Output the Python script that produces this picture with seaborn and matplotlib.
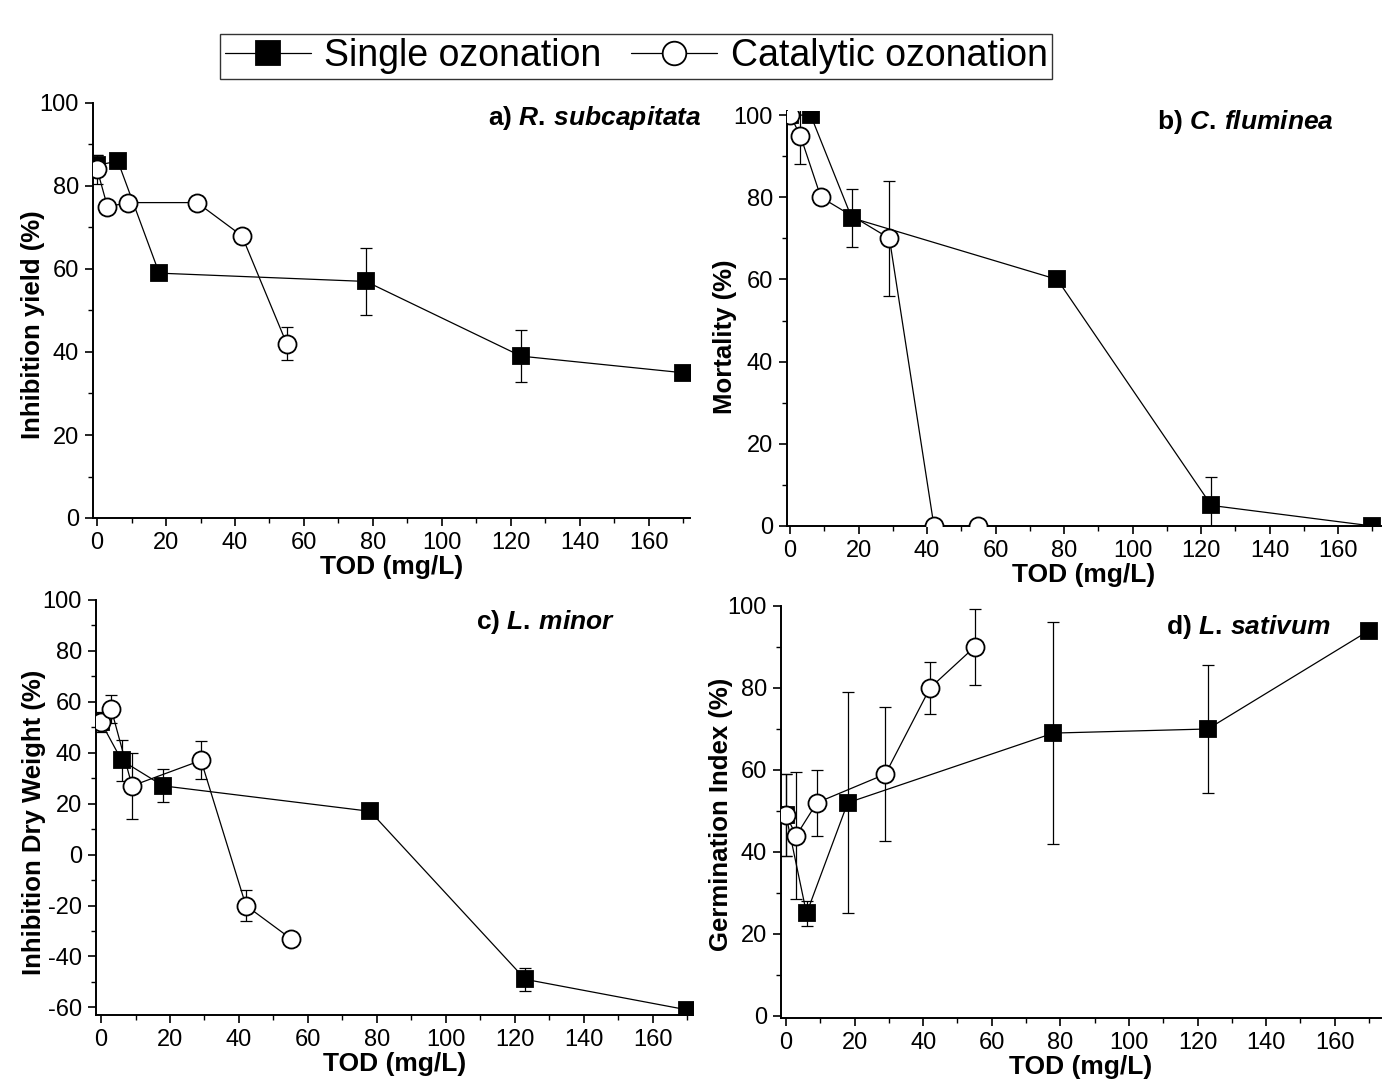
"""Toxicity of ozonated effluent versus TOD for four test organisms."""

import matplotlib

matplotlib.use("Agg")
import matplotlib.pyplot as plt
import pandas as pd
import seaborn as sns
from matplotlib.lines import Line2D
from matplotlib.ticker import MultipleLocator

sns.set_theme(style="ticks")
plt.rcParams["font.family"] = ["Liberation Sans", "DejaVu Sans"]
plt.rcParams["axes.unicode_minus"] = False
plt.rcParams["mathtext.fontset"] = "custom"
plt.rcParams["mathtext.it"] = "Liberation Sans:italic:bold"
plt.rcParams["mathtext.rm"] = "Liberation Sans:bold"
plt.rcParams["text.color"] = "black"
plt.rcParams["axes.labelcolor"] = "black"
plt.rcParams["xtick.color"] = "black"
plt.rcParams["ytick.color"] = "black"

# a) R. subcapitata - inhibition yield (%)
a_single_tod = [0, 6, 18, 78, 123, 170]
a_single_val = [85, 86, 59, 57, 39, 35]
a_single_err = [2.5, 1.5, 1, 8, 6.3, 0]
a_cat_tod = [0, 3, 9, 29, 42, 55]
a_cat_val = [84, 75, 76, 76, 68, 42]
a_cat_err = [3.5, 1, 0, 1.5, 0, 4]

# b) C. fluminea - mortality (%)
b_single_tod = [0, 6, 18, 78, 123, 170]
b_single_val = [100, 100, 75, 60, 5, 0]
b_single_err = [0, 0, 7, 0, 7, 0]
b_cat_tod = [0, 3, 9, 29, 42, 55]
b_cat_val = [100, 95, 80, 70, 0, 0]
b_cat_err = [2, 7, 0, 14, 0, 0]

# c) L. minor - inhibition dry weight (%)
c_single_tod = [0, 6, 18, 78, 123, 170]
c_single_val = [52, 37, 27, 17, -49, -61]
c_single_err = [3, 8, 6.5, 0, 4.5, 0]
c_cat_tod = [0, 3, 9, 29, 42, 55]
c_cat_val = [52, 57, 27, 37, -20, -33]
c_cat_err = [4, 5.5, 13, 7.5, 6, 2]

# d) L. sativum - germination index (%)
d_single_tod = [0, 6, 18, 78, 123, 170]
d_single_val = [49, 25, 52, 69, 70, 94]
d_single_err = [10, 3, 27, 27, 15.7, 0]
d_cat_tod = [0, 3, 9, 29, 42, 55]
d_cat_val = [49, 44, 52, 59, 80, 90]
d_cat_err = [10, 15.5, 8, 16.4, 6.3, 9.2]

SERIES = ["Single ozonation", "Catalytic ozonation"]
TOD_TICKS = [0, 20, 40, 60, 80, 100, 120, 140, 160]

PANELS = [
    {
        "single": (a_single_tod, a_single_val, a_single_err),
        "cat": (a_cat_tod, a_cat_val, a_cat_err),
        "rect": [93 / 1383, 1 - 518 / 1086, 597 / 1383, 415 / 1086],
        "ylim": (0, 100), "xlim": (-1.2, 172), "ylabel": "Inhibition yield (%)",
        "label_xy": (-0.080, 0.465),
        "title": r"a) $\it{R.\,subcapitata}$", "title_xy": (702, 118),
    },
    {
        "single": (b_single_tod, b_single_val, b_single_err),
        "cat": (b_cat_tod, b_cat_val, b_cat_err),
        "rect": [787 / 1383, 1 - 526 / 1086, 594 / 1383, 415 / 1086],
        "ylim": (0, 101), "xlim": (-0.9, 172.5), "ylabel": "Mortality (%)",
        "label_xy": (-0.084, 0.455),
        "title": r"b) $\it{C.\,fluminea}$", "title_xy": (1334, 122),
    },
    {
        "single": (c_single_tod, c_single_val, c_single_err),
        "cat": (c_cat_tod, c_cat_val, c_cat_err),
        "rect": [96 / 1383, 1 - 1015 / 1086, 597 / 1383, 415 / 1086],
        "ylim": (-63, 100), "xlim": (-1.45, 171.6), "ylabel": "Inhibition Dry Weight (%)",
        "label_xy": (-0.083, 0.465),
        "title": r"c) $\it{L.\,minor}$", "title_xy": (615, 622),
    },
    {
        "single": (d_single_tod, d_single_val, d_single_err),
        "cat": (d_cat_tod, d_cat_val, d_cat_err),
        "rect": [781 / 1383, 1 - 1018 / 1086, 600 / 1383, 412 / 1086],
        "ylim": (-0.5, 100), "xlim": (-1.45, 173.5), "ylabel": "Germination Index (%)",
        "label_xy": (-0.080, 0.495),
        "title": r"d) $\it{L.\,sativum}$", "title_xy": (1331, 627),
    },
]

MARKER_STYLE = {
    SERIES[0]: dict(marker="s", markersize=12, markerfacecolor="black", markeredgecolor="black"),
    SERIES[1]: dict(marker="o", markersize=13, markerfacecolor="white", markeredgecolor="black"),
}

fig = plt.figure(figsize=(13.83, 10.86), dpi=100)

for panel in PANELS:
    ax = fig.add_axes(panel["rect"])
    for name, key in zip(SERIES, ("single", "cat")):
        tod, val, err = panel[key]
        frame = pd.DataFrame({"TOD": tod, "value": val})
        ax.errorbar(tod, val, yerr=err, fmt="none", ecolor="black", elinewidth=0.9,
                    capsize=4, capthick=0.9, zorder=2)
        sns.lineplot(data=frame, x="TOD", y="value", ax=ax, sort=False, color="black",
                     linewidth=0.9, markeredgewidth=1.3, zorder=3, **MARKER_STYLE[name])
    ax.set_xlim(*panel["xlim"])
    ax.set_ylim(*panel["ylim"])
    ax.set_xticks(TOD_TICKS)
    ax.xaxis.set_minor_locator(MultipleLocator(10))
    ax.yaxis.set_major_locator(MultipleLocator(20))
    ax.yaxis.set_minor_locator(MultipleLocator(10))
    ax.tick_params(which="major", direction="out", length=6, width=1.2, labelsize=17, pad=4)
    ax.tick_params(which="minor", direction="out", length=3.5, width=1.0)
    ax.spines[["top", "right"]].set_visible(False)
    for side in ("left", "bottom"):
        ax.spines[side].set_linewidth(1.4)
        ax.spines[side].set_color("black")
    ax.set_xlabel("TOD (mg/L)", fontsize=19, fontweight="bold", labelpad=1)
    ax.set_ylabel(panel["ylabel"], fontsize=18.5, fontweight="bold")
    ax.yaxis.set_label_coords(*panel["label_xy"])
    tx, ty = panel["title_xy"]
    fig.text(tx / 1383, 1 - ty / 1086, panel["title"], ha="right", va="center",
             fontsize=19, fontweight="bold")

handles = [
    Line2D([], [], color="black", linewidth=0.9, markeredgewidth=1.3,
           **{**MARKER_STYLE[name], "markersize": 17}) for name in SERIES
]
fig.legend(handles, SERIES, loc="center", bbox_to_anchor=(636 / 1383, 1 - 56 / 1086), ncol=2,
           frameon=True, fancybox=False, edgecolor="black", fontsize=27, handlelength=2.3,
           handletextpad=0.35, columnspacing=0.8, borderpad=0.12)

fig.savefig("out.png", dpi=100)
